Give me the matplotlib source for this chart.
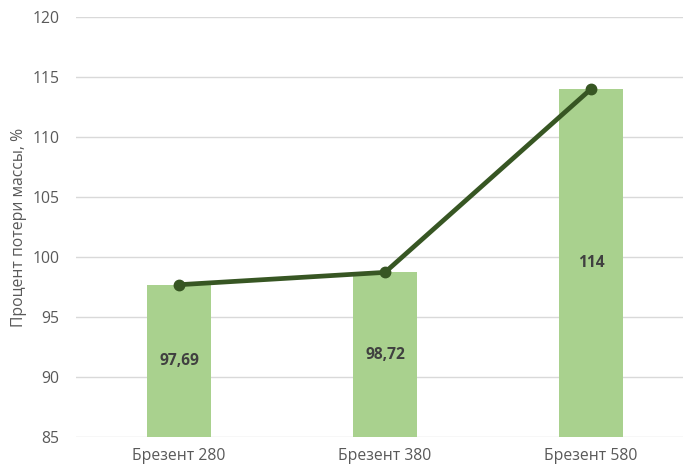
import matplotlib
matplotlib.use("Agg")
import matplotlib.pyplot as plt

categories = ["Брезент 280", "Брезент 380", "Брезент 580"]
values = [97.69, 98.72, 114]
value_labels = ["97,69", "98,72", "114"]
y_ticks = [85, 90, 95, 100, 105, 110, 115, 120]

plt.rcParams['font.family'] = ['Open Sans', 'DejaVu Sans']

fig = plt.figure(figsize=(6.83, 4.70), dpi=100)
ax = fig.add_axes([76 / 683, 33 / 470, 618 / 683, 420 / 470])

x = list(range(len(categories)))
base = y_ticks[0]
ax.bar(x, [v - base for v in values], bottom=base, width=0.31,
       color="#A9D18E", zorder=2)
ax.plot(x, values, color="#375623", linewidth=3.4, marker="o",
        markersize=7.5, zorder=3, solid_capstyle="round")

for xi, v, lab in zip(x, values, value_labels):
    ax.text(xi, (base + v) / 2, lab, ha="center", va="center",
            fontsize=11.2, fontweight="bold", color="#404040", zorder=4)

ax.set_xlim(-0.5, 2.5)
ax.set_ylim(85, 120)
ax.set_yticks(y_ticks)
ax.set_xticks(x)
ax.set_xticklabels(categories)
ax.yaxis.grid(True, color="#D9D9D9", linewidth=1.0, zorder=0)
ax.set_axisbelow(True)
for s in ax.spines.values():
    s.set_visible(False)
ax.tick_params(axis="both", length=0, colors="#595959", labelsize=11.3)
ax.tick_params(axis="x", pad=8)
ax.tick_params(axis="y", pad=12)
ax.set_ylabel("Процент потери массы, %", color="#595959", fontsize=11.3,
              labelpad=4)

fig.savefig("out.png", dpi=100)
